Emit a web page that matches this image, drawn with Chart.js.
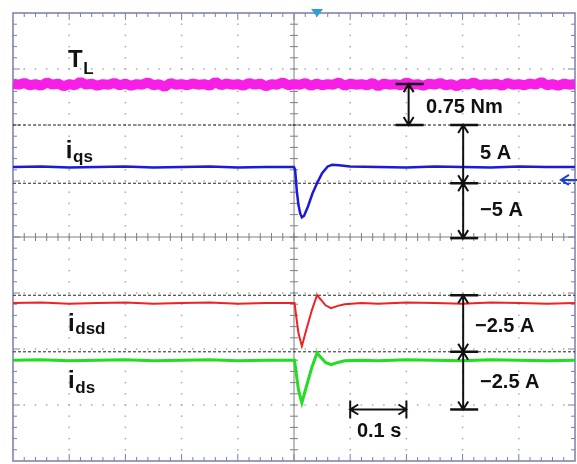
<!DOCTYPE html>
<html>
<head>
<meta charset="utf-8">
<script src="https://cdn.jsdelivr.net/npm/chart.js@4"></script>
<style>
  body { margin: 0; background: #fff; }
  canvas { display: block; }
</style>
</head>
<body>
<canvas id="scope" width="577" height="464"></canvas>
<script>
// time base 0.1 s/div, 10 divisions; vertical in divisions 0..8 (bottom to top)
const tNoise = [0,0.01,0.02,0.03,0.04,0.05,0.06,0.07,0.08,0.09,
  0.10,0.11,0.12,0.13,0.14,0.15,0.16,0.17,0.18,0.19,
  0.20,0.21,0.22,0.23,0.24,0.25,0.26,0.27,0.28,0.29,
  0.30,0.31,0.32,0.33,0.34,0.35,0.36,0.37,0.38,0.39,
  0.40,0.41,0.42,0.43,0.44,0.45,0.46,0.47,0.48,0.49,
  0.50,0.51,0.52,0.53,0.54,0.55,0.56,0.57,0.58,0.59,
  0.60,0.61,0.62,0.63,0.64,0.65,0.66,0.67,0.68,0.69,
  0.70,0.71,0.72,0.73,0.74,0.75,0.76,0.77,0.78,0.79,
  0.80,0.81,0.82,0.83,0.84,0.85,0.86,0.87,0.88,0.89,
  0.90,0.91,0.92,0.93,0.94,0.95,0.96,0.97,0.98,0.99,1.00];
const loadTorque = [6.74,6.72,6.75,6.71,6.73,6.70,6.76,6.72,6.74,6.69,
  6.73,6.71,6.77,6.72,6.74,6.70,6.73,6.72,6.75,6.71,
  6.74,6.70,6.73,6.72,6.76,6.71,6.73,6.68,6.75,6.72,
  6.73,6.71,6.74,6.72,6.73,6.70,6.77,6.71,6.74,6.72,
  6.73,6.70,6.75,6.72,6.74,6.69,6.73,6.72,6.76,6.71,
  6.73,6.72,6.75,6.70,6.74,6.71,6.73,6.72,6.76,6.70,
  6.74,6.72,6.73,6.71,6.75,6.69,6.74,6.72,6.73,6.71,
  6.76,6.72,6.73,6.70,6.74,6.72,6.75,6.71,6.73,6.69,
  6.74,6.72,6.76,6.71,6.73,6.72,6.74,6.70,6.75,6.72,
  6.73,6.71,6.74,6.72,6.77,6.71,6.73,6.70,6.74,6.72,6.73];

const tQs = [0,0.05,0.1,0.15,0.2,0.25,0.3,0.35,0.4,0.45,0.5,0.502,0.505,0.508,0.511,0.514,0.518,0.525,0.533,0.541,0.550,0.560,0.568,0.580,0.600,0.65,0.7,0.75,0.8,0.85,0.9,0.95,1.0];
const iqs = [5.25,5.26,5.24,5.25,5.26,5.24,5.25,5.26,5.24,5.25,5.25,5.20,4.82,4.57,4.42,4.35,4.38,4.55,4.78,4.96,5.14,5.26,5.29,5.28,5.26,5.25,5.24,5.26,5.25,5.24,5.26,5.25,5.25];

const tD = [0,0.05,0.1,0.15,0.2,0.25,0.3,0.35,0.4,0.45,0.501,0.504,0.508,0.514,0.522,0.532,0.541,0.548,0.556,0.566,0.578,0.590,0.62,0.65,0.7,0.75,0.8,0.85,0.9,0.95,1.0];
const idsd = [2.82,2.83,2.81,2.82,2.83,2.81,2.82,2.83,2.81,2.82,2.82,2.58,2.28,2.05,2.35,2.70,2.96,2.88,2.78,2.73,2.77,2.80,2.82,2.81,2.83,2.82,2.81,2.83,2.82,2.81,2.82];
const ids = [1.80,1.81,1.79,1.80,1.81,1.79,1.80,1.81,1.79,1.80,1.80,1.56,1.27,1.04,1.33,1.68,1.93,1.85,1.76,1.72,1.76,1.79,1.80,1.79,1.81,1.80,1.79,1.81,1.80,1.79,1.80];

// dashed reference (ground) levels of the channels
const refLevels = [6.0, 4.96, 2.96, 1.95];

const pts = (xs, ys) => xs.map((x, i) => ({ x: x, y: ys[i] }));

const refSets = refLevels.map(v => ({
  data: [{ x: 0, y: v }, { x: 1, y: v }],
  borderColor: '#222',
  borderWidth: 1,
  borderDash: [3, 2],
  pointRadius: 0
}));

const scopeGrid = {
  id: 'scopeGrid',
  beforeDatasetsDraw(chart) {
    const c = chart.ctx, xs = chart.scales.x, ys = chart.scales.y;
    const a = chart.chartArea;
    c.save();
    // dotted graticule
    c.fillStyle = '#a8a8b4';
    for (let i = 1; i < 10; i++) {
      if (i === 5) continue;
      const px = xs.getPixelForValue(i / 10);
      for (let k = 1; k < 40; k++) c.fillRect(px - 0.75, ys.getPixelForValue(k / 5) - 0.75, 1.5, 1.5);
    }
    for (let j = 1; j < 8; j++) {
      if (j === 4) continue;
      const py = ys.getPixelForValue(j);
      for (let k = 1; k < 50; k++) c.fillRect(xs.getPixelForValue(k / 50) - 0.75, py - 0.75, 1.5, 1.5);
    }
    // centre cross with ticks
    const cx = xs.getPixelForValue(0.5), cy = ys.getPixelForValue(4);
    c.strokeStyle = '#7c7c86';
    c.lineWidth = 1;
    c.beginPath();
    c.moveTo(a.left, cy); c.lineTo(a.right, cy);
    c.moveTo(cx, a.top); c.lineTo(cx, a.bottom);
    for (let k = 1; k < 50; k++) {
      const px = xs.getPixelForValue(k / 50);
      c.moveTo(px, cy - 4); c.lineTo(px, cy + 4);
    }
    for (let k = 1; k < 40; k++) {
      const py = ys.getPixelForValue(k / 5);
      c.moveTo(cx - 4, py); c.lineTo(cx + 4, py);
    }
    c.stroke();
    // frame with inward ticks
    c.strokeStyle = '#7a7fa6';
    c.lineWidth = 1.5;
    c.strokeRect(a.left, a.top, a.right - a.left, a.bottom - a.top);
    c.lineWidth = 1;
    c.beginPath();
    for (let k = 1; k < 50; k++) {
      const px = xs.getPixelForValue(k / 50), len = k % 5 === 0 ? 7 : 4;
      c.moveTo(px, a.top); c.lineTo(px, a.top + len);
      c.moveTo(px, a.bottom); c.lineTo(px, a.bottom - len);
    }
    for (let k = 1; k < 40; k++) {
      const py = ys.getPixelForValue(k / 5), len = k % 5 === 0 ? 7 : 4;
      c.moveTo(a.left, py); c.lineTo(a.left + len, py);
      c.moveTo(a.right, py); c.lineTo(a.right - len, py);
    }
    c.stroke();
    c.restore();
  }
};

function head(c, x, y, dx, dy) {
  // open arrowhead at (x,y) pointing in direction (dx,dy)
  const s = 8, w = 5;
  c.moveTo(x - dx * s + dy * w, y - dy * s - dx * w);
  c.lineTo(x, y);
  c.lineTo(x - dx * s - dy * w, y - dy * s + dx * w);
}

const notes = {
  id: 'notes',
  afterDatasetsDraw(chart) {
    const c = chart.ctx, xs = chart.scales.x, ys = chart.scales.y;
    const X = v => xs.getPixelForValue(v), Y = v => ys.getPixelForValue(v);
    c.save();
    // top trigger marker and right channel marker
    c.fillStyle = '#2a9fd6';
    c.beginPath();
    c.moveTo(X(0.541) - 6, 9); c.lineTo(X(0.541) + 6, 9); c.lineTo(X(0.541), 17);
    c.fill();
    c.strokeStyle = '#2040d0';
    c.lineWidth = 2;
    c.beginPath();
    c.moveTo(X(1) + 2, Y(5.02)); c.lineTo(X(0.975), Y(5.02));
    head(c, X(0.975), Y(5.02), -1, 0);
    c.stroke();

    // trace names
    c.fillStyle = '#111';
    c.textBaseline = 'alphabetic';
    const name = (main, sub, t, d, dsub) => {
      c.font = 'bold 24px "Liberation Sans", Arial, sans-serif';
      c.fillText(main, X(t), Y(d));
      const w = c.measureText(main).width;
      c.font = 'bold 17px "Liberation Sans", Arial, sans-serif';
      c.fillText(sub, X(t) + w + 0.5, Y(d - dsub));
    };
    name('T', 'L', 0.098, 7.04, 0.13);
    name('i', 'qs', 0.094, 5.41, 0.07);
    name('i', 'dsd', 0.098, 2.32, 0.05);
    name('i', 'ds', 0.098, 1.30, 0.09);

    // scale arrows
    c.strokeStyle = '#111';
    c.lineWidth = 2;
    const vArrow = (t, d1, d2, bars) => {
      const x = X(t), y1 = Y(d1), y2 = Y(d2);
      c.beginPath();
      c.moveTo(x, y1); c.lineTo(x, y2);
      head(c, x, y1, 0, -1);
      head(c, x, y2, 0, 1);
      c.stroke();
      c.lineWidth = 2.5;
      c.beginPath();
      bars.forEach(d => { c.moveTo(x - 13, Y(d)); c.lineTo(x + 15, Y(d)); });
      c.stroke();
      c.lineWidth = 2;
    };
    vArrow(0.704, 6.73, 6.0, [6.73, 6.0]);
    vArrow(0.801, 6.0, 4.96, [6.0, 4.96]);
    vArrow(0.801, 4.96, 3.98, [3.98]);
    vArrow(0.801, 2.96, 1.95, [2.96, 1.95]);
    vArrow(0.801, 1.95, 0.92, [0.92]);
    // 0.1 s time arrow
    const hy = Y(0.92), hx1 = X(0.6), hx2 = X(0.7);
    c.beginPath();
    c.moveTo(hx1, hy); c.lineTo(hx2, hy);
    head(c, hx1, hy, -1, 0);
    head(c, hx2, hy, 1, 0);
    c.moveTo(hx1, hy - 9); c.lineTo(hx1, hy + 9);
    c.moveTo(hx2, hy - 9); c.lineTo(hx2, hy + 9);
    c.stroke();

    c.font = 'bold 20px "Liberation Sans", Arial, sans-serif';
    c.textBaseline = 'middle';
    c.fillText('0.75 Nm', X(0.735), Y(6.32));
    c.fillText('5 A', X(0.831), Y(5.5));
    c.fillText('\u22125 A', X(0.831), Y(4.48));
    c.fillText('\u22122.5 A', X(0.822), Y(2.4));
    c.fillText('\u22122.5 A', X(0.831), Y(1.41));
    c.fillText('0.1 s', X(0.612), Y(0.52));
    c.restore();
  }
};

new Chart(document.getElementById('scope').getContext('2d'), {
  type: 'line',
  data: {
    datasets: [
      { data: pts(tQs, iqs), borderColor: '#1a1ad8', borderWidth: 2.5, pointRadius: 0 },
      { data: pts(tD, idsd), borderColor: '#ee2222', borderWidth: 2, pointRadius: 0 },
      { data: pts(tD, ids), borderColor: '#22dd22', borderWidth: 3, pointRadius: 0 },
      { data: pts(tNoise, loadTorque), borderColor: '#f81ee8', borderWidth: 10, borderJoinStyle: 'bevel', pointRadius: 0 },
      ...refSets
    ]
  },
  options: {
    responsive: false,
    animation: false,
    layout: { padding: { left: 13, top: 13, right: 2, bottom: 3 } },
    plugins: { legend: { display: false }, tooltip: { enabled: false } },
    scales: {
      x: { type: 'linear', min: 0, max: 1, display: false },
      y: { min: 0, max: 8, display: false }
    }
  },
  plugins: [scopeGrid, notes]
});
</script>
</body>
</html>
